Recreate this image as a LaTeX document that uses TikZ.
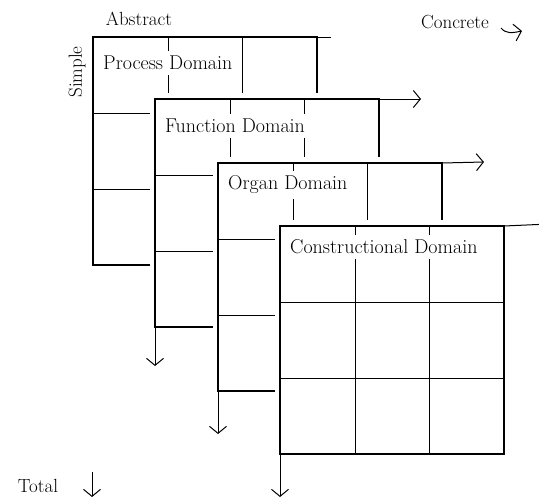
\documentclass[tikz,border=0pt]{standalone}
\usetikzlibrary{arrows.meta}
\newcommand\drawpanel[5]{%
  \fill[white] ({#1-5},{#2-6}) rectangle ({#1+229},{#2+233});
  \coordinate (#3-nw) at (#1,#2);
  \coordinate (#3-ne) at ({#1+224},#2);
  \coordinate (#3-sw) at (#1,{#2+228});
  \coordinate (#3-se) at ({#1+224},{#2+228});
  \draw[gridline] ({#1+75},#2) -- ({#1+75},{#2+228});
  \draw[gridline] ({#1+149},#2) -- ({#1+149},{#2+228});
  \draw[gridline] (#1,{#2+76}) -- ({#1+224},{#2+76});
  \draw[gridline] (#1,{#2+152}) -- ({#1+224},{#2+152});
  \node[dlabel] (#3-lbl) at ({#1+5},{#2+#5}) {#4};
  \draw[frame] (#3-nw) rectangle (#3-se);
}
\begin{document}
\begin{tikzpicture}[x=1pt,y=-1pt,
  frame/.style={line width=2.4pt},
  gridline/.style={line width=0.9pt},
  barb/.style={line width=1pt,-{Straight Barb[length=7pt,width=17pt,line width=1pt]}},
  lbl/.style={font=\fontsize{19}{23}\selectfont, inner sep=0pt},
  dlabel/.style={font=\fontsize{20}{24}\selectfont, fill=white, inner sep=5pt, anchor=west}]
\clip (0,0) rectangle (539,499);
\fill[white] (0,0) rectangle (539,499);

% labels
\node[lbl] (abstract) at (139,19) {Abstract};
\node[lbl] (concrete) at (455,22) {Concrete};
\node[lbl, rotate=90] (simple) at (77,72) {Simple};
\node[lbl] (total) at (38,486) {Total};
\coordinate (c1) at (501,28);
\coordinate (c2) at (522,31);
\draw[barb] (c1) .. controls (506,34) and (512,33) .. (c2);
\coordinate (t1) at (92,472);
\coordinate (t2) at (92,497);
\draw[barb] (t1) -- (t2);

% Process
\drawpanel{93}{37}{p1}{Process Domain}{26}
\coordinate (p1x) at (331,37);
\draw[gridline] (p1-ne) -- (p1x);

% Function
\drawpanel{155}{99}{p2}{Function Domain}{27}
\coordinate (p2x) at (421,99);
\draw[barb] (p2-ne) -- (p2x);
\coordinate (p2d) at (155,366);
\draw[barb] (p2-sw) -- (p2d);

% Organ
\drawpanel{218}{163}{p3}{Organ Domain}{22}
\coordinate (p3x) at (484,162);
\draw[barb] (p3-ne) -- (p3x);
\coordinate (p3d) at (218,434);
\draw[barb] (p3-sw) -- (p3d);

% Constructional
\drawpanel{280}{226}{p4}{Constructional Domain}{21}
\coordinate (p4x) at (549,224);
\draw[barb] (p4-ne) -- (p4x);
\coordinate (p4d) at (280,497);
\draw[barb] (p4-sw) -- (p4d);
\end{tikzpicture}
\end{document}
